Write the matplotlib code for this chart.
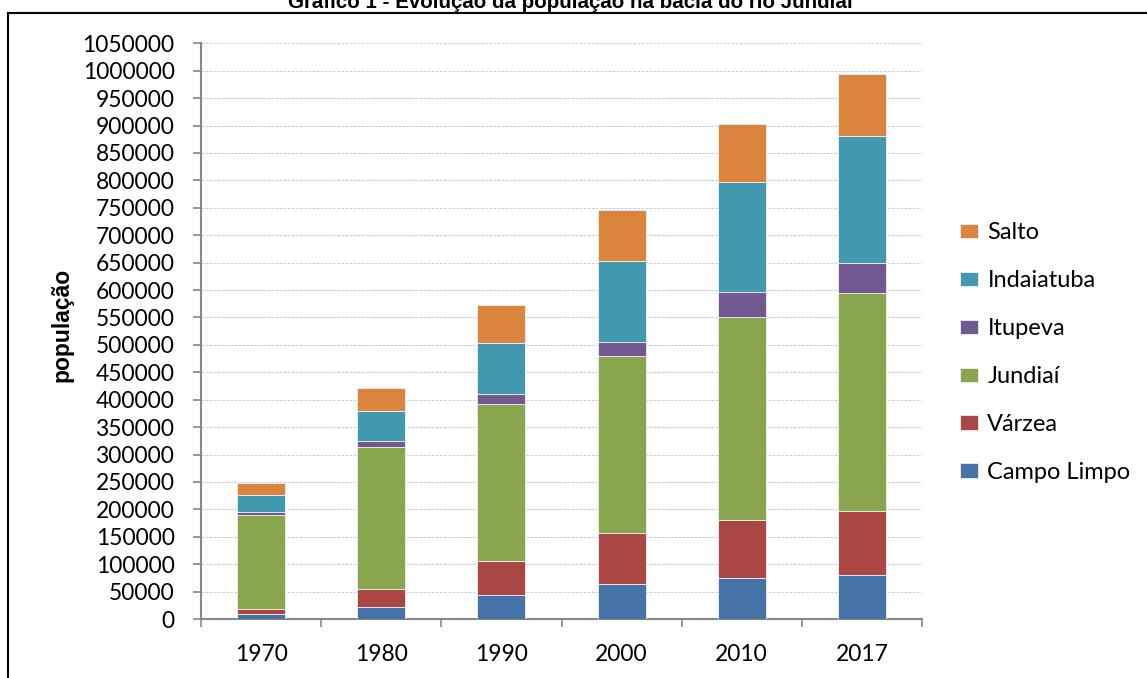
import matplotlib
matplotlib.use("Agg")
import matplotlib.pyplot as plt
from matplotlib.lines import Line2D
from matplotlib.ticker import FixedLocator, NullFormatter
import numpy as np

years = ["1970", "1980", "1990", "2000", "2010", "2017"]

campo_limpo = [9000, 21900, 43300, 63900, 74300, 80300]
varzea = [9800, 33400, 62600, 92600, 107100, 116900]
jundiai = [170600, 259300, 286700, 323800, 370100, 398100]
itupeva = [6600, 9200, 17000, 25500, 44400, 54800]
indaiatuba = [30400, 56000, 94400, 146700, 200600, 231400]
salto = [21400, 42000, 68800, 93100, 105800, 113100]

series_names = ["Campo Limpo", "Várzea", "Jundiaí", "Itupeva", "Indaiatuba", "Salto"]
series_values = [campo_limpo, varzea, jundiai, itupeva, indaiatuba, salto]
series_colors = ["#4572a7", "#aa4643", "#89a54e", "#71588f", "#4198af", "#db843d"]

y_ticks = list(range(0, 1050001, 50000))

plt.rcParams["font.family"] = ["Lato", "DejaVu Sans"]

W, H = 1147, 678
fig = plt.figure(figsize=(W / 100, H / 100), dpi=100)
fig.patch.set_facecolor("white")

ax = fig.add_axes([201 / W, 1 - 619 / H, (922 - 201) / W, (619 - 43.3) / H])

x = np.arange(len(years))
bottom = np.zeros(len(years))
handles = []
for name, vals, col in zip(series_names, series_values, series_colors):
    vals = np.array(vals, dtype=float)
    b = ax.bar(x, vals, width=0.4, bottom=bottom, color=col, edgecolor="#eef2f6",
               linewidth=0.6, label=name, zorder=3)
    handles.append(b)
    bottom += vals

ax.set_xlim(-0.5, len(years) - 0.5)
ax.set_ylim(0, 1050000)

# y axis
ax.set_yticks(y_ticks)
ax.set_yticklabels([str(v) for v in y_ticks])
ax.tick_params(axis="y", direction="out", length=6, width=1.2, color="#868686",
               pad=13, labelsize=16.4, labelcolor="black")
ax.yaxis.grid(True, color="#c3d1e4", linestyle=(0, (2.5, 1.2)), linewidth=0.8, zorder=0)
ax.set_axisbelow(True)

# x axis: ticks at category boundaries, labels at centres
ax.xaxis.set_major_locator(FixedLocator(np.arange(-0.5, len(years), 1.0)))
ax.xaxis.set_major_formatter(NullFormatter())
ax.xaxis.set_minor_locator(FixedLocator(x))
ax.set_xticklabels(years, minor=True)
ax.tick_params(axis="x", which="major", direction="out", length=6, width=1.2, color="#868686")
ax.tick_params(axis="x", which="minor", length=0, pad=18, labelsize=16.4, labelcolor="black")

for side in ["top", "right"]:
    ax.spines[side].set_visible(False)
for side in ["left", "bottom"]:
    ax.spines[side].set_color("#868686")
    ax.spines[side].set_linewidth(1.5)

fig.text(62 / W, 1 - 325 / H, "população", rotation=90, ha="center", va="center",
         fontsize=16.5, fontweight="bold", family=["Liberation Sans", "DejaVu Sans"])

leg = fig.legend(handles[::-1], series_names[::-1], loc="upper left",
                 bbox_to_anchor=(939 / W, 1 - 201 / H), frameon=False,
                 fontsize=17, handlelength=0.75, handleheight=0.55,
                 handletextpad=0.4, labelspacing=1.14)

fig.text(570 / W, 1 - 8 / H, "Gráfico 1 - Evolução da população na bacia do rio Jundiaí",
         ha="center", va="baseline", fontsize=14.75, fontweight="bold",
         family=["Liberation Sans", "DejaVu Sans"])

# chart frame
fig.add_artist(Line2D([8 / W, 8 / W], [0, 1 - 13 / H], transform=fig.transFigure,
                      color="black", linewidth=1.5))
fig.add_artist(Line2D([8 / W, 1], [1 - 13 / H, 1 - 13 / H], transform=fig.transFigure,
                      color="black", linewidth=1.5))

fig.savefig("out.png", dpi=100)
